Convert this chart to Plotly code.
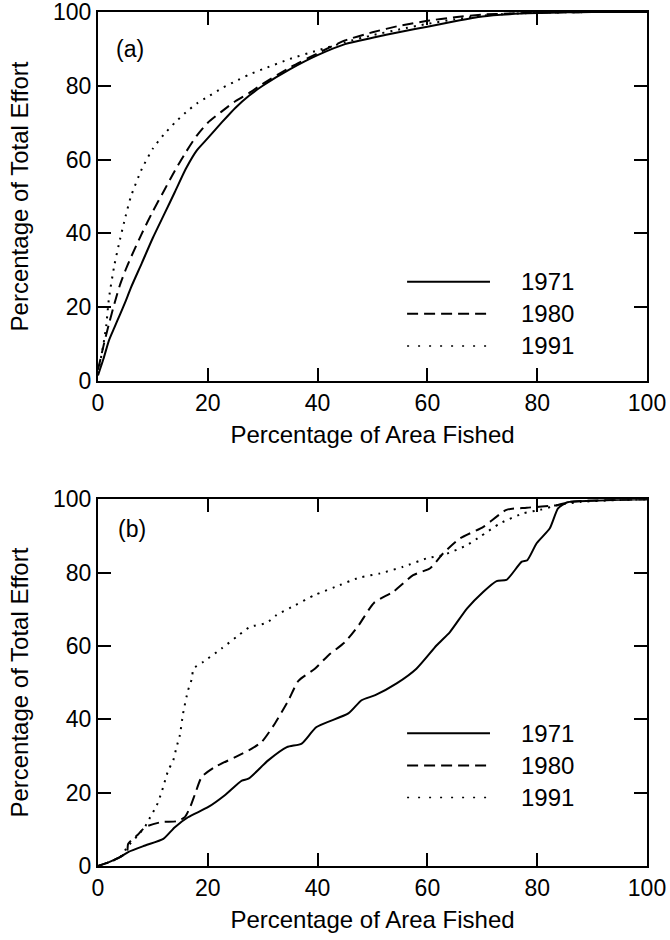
import plotly.graph_objects as go

# ---- data -------------------------------------------------------------
years = ["1971", "1980", "1991"]
tick_vals = [0, 20, 40, 60, 80, 100]

# (a) cumulative effort curves
a_x_1971 = [0, 1, 2, 3, 4, 5, 6, 8, 10, 12, 14, 16, 18, 20, 22.5, 25, 27.5, 30,
            35, 40, 45, 50, 55, 60, 65, 70, 75, 80, 85, 90, 95, 100]
a_y_1971 = [1.5, 6, 11, 14.5, 18, 21.5, 25.3, 32, 38.8, 45, 51.2, 57.5, 62.5, 65.8,
            70, 74, 77.3, 80, 84.5, 88.3, 91.3, 93, 94.6, 96, 97.5, 98.8, 99.4,
            99.7, 99.9, 100, 100, 100]

a_x_1980 = [0, 1, 2, 3, 4, 5, 6, 8, 10, 12, 14, 16, 18, 20, 22.5, 25, 27.5, 30,
            35, 40, 45, 50, 55, 60, 65, 70, 75, 80, 85, 90, 95, 100]
a_y_1980 = [3, 9.5, 15.5, 21, 26, 30, 33.5, 40, 46, 51.5, 57, 62, 66.5, 70, 73,
            75.8, 78, 80.5, 85, 88.8, 92.3, 94.5, 96.3, 97.6, 98.6, 99.3, 99.6,
            99.8, 99.9, 100, 100, 100]

a_x_1991 = [0, 0.5, 1, 1.5, 2, 3, 4, 5, 6, 8, 10, 12, 14, 16, 18, 20, 22.5, 25,
            27.5, 30, 35, 40, 45, 50, 55, 60, 65, 70, 75, 80, 85, 90, 95, 100]
a_y_1991 = [2, 6, 10, 15, 22.5, 31.5, 38.3, 44.5, 50, 57.5, 63, 66.8, 70, 72.8,
            75.2, 77, 79.3, 81.2, 83, 84.5, 87.3, 89.6, 91.8, 93.7, 95.3, 96.8,
            98, 99, 99.5, 99.8, 99.9, 100, 100, 100]

# (b) cumulative effort curves
b_x_1971 = [0, 1.9, 4, 5.5, 8.6, 11.9, 14, 16.4, 20.1, 23.1, 26.2, 27.4, 31, 34.4,
            37.1, 39.8, 45.6, 48, 50.5, 54.4, 58, 61.7, 64.1, 67.2, 70.2, 72.6,
            74.4, 77.2, 78.2, 79.9, 82.3, 83.8, 85.5, 90, 95, 100]
b_y_1971 = [0, 1, 2.4, 3.8, 5.6, 7.4, 10.6, 13.3, 16.1, 19.3, 23.3, 23.8, 28.8,
            32.4, 33.4, 37.9, 41.6, 45.2, 46.6, 49.8, 53.8, 60.2, 63.8, 70.2, 74.8,
            77.7, 78, 83, 83.4, 88, 92.1, 97.5, 99.2, 99.6, 99.9, 100]

b_x_1980 = [0, 1.9, 4, 5.3, 5.5, 7.3, 8.6, 11.6, 14.3, 15.8, 16.8, 17.7, 18.9,
            21.3, 25, 28, 29.8, 32.2, 34.7, 36.5, 39.5, 42, 45, 47.5, 50.3, 53.8,
            57.4, 60.5, 62.9, 65.9, 70.2, 74.4, 78.1, 83.6, 86, 90, 95, 100]
b_y_1980 = [0, 1, 2.4, 3.9, 6.1, 8.6, 10.6, 12, 12.2, 13.3, 16.1, 19.7, 24.3, 27,
            29.7, 32, 33.8, 38.8, 45.2, 50.5, 53.8, 57.5, 61.1, 65.7, 71.8, 74.8,
            79.3, 81.2, 85.3, 89.3, 92.5, 97.1, 97.7, 98.4, 99.3, 99.7, 99.9, 100]

b_x_1991 = [0, 1.9, 4, 5.5, 7.3, 8.6, 9.5, 10.7, 11.6, 12.8, 13.7, 14.3, 14.9,
            15.5, 16.4, 17.1, 17.4, 19.2, 22.5, 25.6, 27.7, 30.7, 32.5, 35.9, 39.5,
            43.2, 47.5, 51.4, 55.6, 59.9, 62.9, 67.2, 69.6, 73.2, 77.5, 80.5, 84,
            88, 95, 100]
b_y_1991 = [0, 1, 2.4, 5.5, 8.4, 10.8, 13.3, 16.5, 20.2, 26.1, 28.8, 32.4, 35.6,
            41.6, 47.9, 51.1, 53.8, 55.7, 59.3, 62.9, 65.2, 66.3, 68.4, 71.1, 73.9,
            76.1, 78.6, 79.8, 81.6, 83.9, 84.8, 87.5, 89.8, 93.4, 96.2, 97.1, 98.5,
            99.3, 99.8, 100]

# ---- styling ------------------------------------------------------------
FONT = "Liberation Sans, Arial, Helvetica, sans-serif"
dash_for = {"1971": "solid", "1980": "11px,6px", "1991": "2px,6px"}

panels = [
    ("x", "y", {"1971": (a_x_1971, a_y_1971), "1980": (a_x_1980, a_y_1980),
                "1991": (a_x_1991, a_y_1991)}),
    ("x2", "y2", {"1971": (b_x_1971, b_y_1971), "1980": (b_x_1980, b_y_1980),
                  "1991": (b_x_1991, b_y_1991)}),
]

fig = go.Figure()
for xa, ya, series in panels:
    for yr in years:
        xs, ys = series[yr]
        fig.add_trace(go.Scatter(
            x=xs, y=ys, mode="lines", xaxis=xa, yaxis=ya, showlegend=False,
            line=dict(color="black", width=2, dash=dash_for[yr], shape="spline",
                      smoothing=0.6),
            hoverinfo="skip"))

# in-plot keys: one short line sample and a label per year
shapes, annotations = [], []
key_rows = {"y": [26.9, 18.2, 9.5], "y2": [36.2, 27.4, 18.7]}
for xa, ya in (("x", "y"), ("x2", "y2")):
    for yr, ky in zip(years, key_rows[ya]):
        shapes.append(dict(type="line", xref=xa, yref=ya, x0=56.3, x1=71.4,
                           y0=ky, y1=ky,
                           line=dict(color="black", width=2 if yr != "1991" else 1.5,
                                     dash=dash_for[yr] if yr != "1991" else "2px,9px")))
        annotations.append(dict(xref=xa, yref=ya, x=76.6, y=ky, text=yr,
                                showarrow=False, xanchor="left", yanchor="middle",
                                font=dict(family=FONT, size=24, color="black")))

annotations.append(dict(xref="x", yref="y", x=3.0, y=90.1, text="(a)",
                        showarrow=False, xanchor="left", yanchor="middle",
                        font=dict(family=FONT, size=23, color="black")))
annotations.append(dict(xref="x2", yref="y2", x=3.3, y=92.0, text="(b)",
                        showarrow=False, xanchor="left", yanchor="middle",
                        font=dict(family=FONT, size=23, color="black")))

axis_common = dict(
    range=[0, 100], tickvals=tick_vals, ticks="inside", ticklen=13, tickwidth=2,
    tickcolor="black", showline=True, linecolor="black", linewidth=2,
    mirror="ticks", showgrid=False, zeroline=False, automargin=False,
    ticklabeloverflow="allow",
    tickfont=dict(family=FONT, size=23, color="black"),
)

fig.update_layout(
    width=670, height=940,
    margin=dict(l=98, r=23, t=12, b=74),
    paper_bgcolor="white", plot_bgcolor="white",
    shapes=shapes, annotations=annotations,
    xaxis=dict(**axis_common, domain=[0, 1], anchor="y",
               title=dict(text="Percentage of Area Fished", standoff=12,
                          font=dict(family=FONT, size=24, color="black"))),
    yaxis=dict(**axis_common, domain=[0.568, 1.0], anchor="x",
               title=dict(text="Percentage of Total Effort", standoff=18,
                          font=dict(family=FONT, size=24, color="black"))),
    xaxis2=dict(**axis_common, domain=[0, 1], anchor="y2",
                title=dict(text="Percentage of Area Fished", standoff=12,
                           font=dict(family=FONT, size=24, color="black"))),
    yaxis2=dict(**axis_common, domain=[0.0, 0.4294], anchor="x2",
                title=dict(text="Percentage of Total Effort", standoff=18,
                           font=dict(family=FONT, size=24, color="black"))),
)

fig.write_html("out.html")
